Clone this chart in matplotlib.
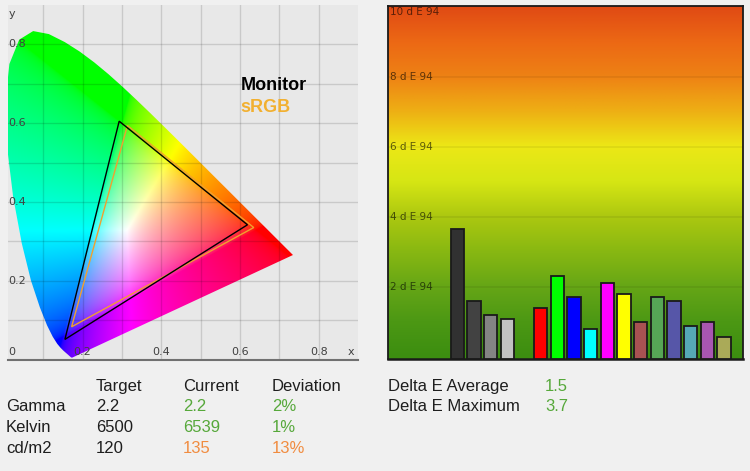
import numpy as np
import matplotlib
matplotlib.use("Agg")
import matplotlib.pyplot as plt
from matplotlib.colors import LinearSegmentedColormap
from matplotlib.patches import Polygon

# ---------------- data ----------------
# CIE 1931 spectral locus (chromaticity x, y)
locus_x = [0.1741, 0.1740, 0.1738, 0.1736, 0.1733, 0.1730, 0.1726, 0.1721, 0.1714,
           0.1703, 0.1689, 0.1669, 0.1644, 0.1611, 0.1566, 0.1510, 0.1440, 0.1355,
           0.1241, 0.1096, 0.0913, 0.0687, 0.0454, 0.0235, 0.0082, 0.0039, 0.0139,
           0.0389, 0.0743, 0.1142, 0.1547, 0.1929, 0.2296, 0.2658, 0.3016, 0.3373,
           0.3731, 0.4087, 0.4441, 0.4788, 0.5125, 0.5448, 0.5752, 0.6029, 0.6270,
           0.6482, 0.6658, 0.6801, 0.6915, 0.7006, 0.7079, 0.7140, 0.7190, 0.7230,
           0.7260, 0.7300, 0.7334, 0.7347]
locus_y = [0.0050, 0.0050, 0.0049, 0.0049, 0.0048, 0.0048, 0.0048, 0.0048, 0.0051,
           0.0058, 0.0069, 0.0086, 0.0109, 0.0138, 0.0177, 0.0227, 0.0297, 0.0399,
           0.0578, 0.0868, 0.1327, 0.2007, 0.2950, 0.4127, 0.5384, 0.6548, 0.7502,
           0.8120, 0.8338, 0.8262, 0.8059, 0.7816, 0.7543, 0.7243, 0.6923, 0.6589,
           0.6245, 0.5896, 0.5547, 0.5202, 0.4866, 0.4544, 0.4242, 0.3965, 0.3725,
           0.3514, 0.3340, 0.3197, 0.3083, 0.2993, 0.2920, 0.2859, 0.2809, 0.2770,
           0.2740, 0.2700, 0.2666, 0.2653]

monitor_x = [0.619, 0.293, 0.155]
monitor_y = [0.342, 0.605, 0.051]
srgb_x = [0.635, 0.314, 0.172]
srgb_y = [0.335, 0.594, 0.083]
chroma_ticks = [0.2, 0.4, 0.6, 0.8]

patch_colors = ["#313131", "#424242", "#848484", "#c2c2c2",
                "#ff0000", "#00ff00", "#0000ff", "#00ffff", "#ff00ff", "#ffff00",
                "#a85252", "#56a656", "#5656a8", "#56a8b6", "#a856b2", "#aaaa58"]
delta_e = [3.65, 1.59, 1.20, 1.08, 1.39, 2.31, 1.71, 0.80, 2.11, 1.79,
           1.00, 1.71, 1.59, 0.88, 1.00, 0.56]
n_grays = 4
de_ticks = [2, 4, 6, 8, 10]

table_header = ["Target", "Current", "Deviation"]
row_labels = ["Gamma", "Kelvin", "cd/m2"]
target_vals = ["2.2", "6500", "120"]
current_vals = ["2.2", "6539", "135"]
deviation_vals = ["2%", "1%", "13%"]
row_ok = [True, True, False]
summary_labels = ["Delta E Average", "Delta E Maximum"]
summary_vals = ["1.5", "3.7"]

# ---------------- style ----------------
W, H = 750, 471
GREEN = "#56a83a"
ORANGE = "#f08c40"
TXT = "#1e1e1e"
TABLE_FONT = ["Liberation Sans", "DejaVu Sans"]

def fx(px):
    return px / W

def fy(py):
    return 1 - py / H

fig = plt.figure(figsize=(7.5, 4.71), dpi=100, facecolor="#f0f0f0")

# ---------------- chromaticity diagram ----------------
axL = fig.add_axes([fx(8), fy(359.5), 350 / W, 354.5 / H])
axL.set_facecolor("#e8e8e8")
axL.set_xlim(0.0104, 0.9)
axL.set_ylim(0, 0.9)
for s in axL.spines.values():
    s.set_visible(False)
axL.set_xticks([]); axL.set_yticks([])

n = 500
gx = np.linspace(0, 0.9, n)
gy = np.linspace(0.0005, 0.9, n)
GX, GY = np.meshgrid(gx, gy)
Yc = np.maximum(GY, 1e-4)
Xv = GX / Yc
Zv = (1 - GX - GY) / Yc
R = 3.2406 * Xv - 1.5372 - 0.4986 * Zv
G = -0.9689 * Xv + 1.8758 + 0.0415 * Zv
B = 0.0557 * Xv - 0.2040 + 1.0570 * Zv
rgb = np.clip(np.stack([R, G, B], -1), 0, None)
rgb = rgb / np.maximum(rgb.max(-1, keepdims=True), 1e-6)
rgb = rgb ** (1 / 2.2)
im = axL.imshow(rgb, origin="lower", extent=(0, 0.9, 0, 0.9), aspect="auto",
                interpolation="bilinear", zorder=1)
poly = Polygon(np.column_stack([locus_x, locus_y]), closed=True,
               facecolor="none", edgecolor="none")
axL.add_patch(poly)
im.set_clip_path(poly)

for v in np.arange(1, 9) / 10:
    axL.axvline(v, color="black", alpha=0.13, lw=1, zorder=2)
    axL.axhline(v, color="black", alpha=0.13, lw=1, zorder=2)
axL.axhline(0, color="#707070", lw=1.5, zorder=5, clip_on=False)

axL.fill(monitor_x, monitor_y, facecolor="none", edgecolor="black", lw=1.0, zorder=4)
axL.fill(srgb_x, srgb_y, facecolor="none", edgecolor="#f0a030", lw=1.0, zorder=3)

lab_kw = dict(fontsize=8, color="#404040", family="DejaVu Sans", zorder=6)
for t in chroma_ticks:
    axL.text(0.0115, t, f"{t:g}", ha="left", va="center", **lab_kw)
    axL.text(t, 0.019, f"{t:g}", ha="center", va="center", **lab_kw)
axL.text(0.02, 0.019, "0", ha="center", va="center", **lab_kw)
axL.text(0.883, 0.019, "x", ha="center", va="center", **lab_kw)
axL.text(0.02, 0.876, "y", ha="center", va="center", **lab_kw)

fig.text(fx(240.5), fy(89.5), "Monitor", fontsize=13, fontweight="bold",
         color="black", family=TABLE_FONT, va="baseline", ha="left")
fig.text(fx(240.5), fy(112.3), "sRGB", fontsize=13, fontweight="bold",
         color="#f2b030", family=TABLE_FONT, va="baseline", ha="left")

# ---------------- Delta E bar chart ----------------
axR = fig.add_axes([fx(388.3), fy(359.3), 354.4 / W, 353.3 / H])
ylo, yhi = -0.074, 10.02
xlo, xhi = -4.14, 17.12
axR.set_xlim(xlo, xhi)
axR.set_ylim(ylo, yhi)
axR.set_xticks([]); axR.set_yticks([])
for s in axR.spines.values():
    s.set_color("#1a1a1a")
    s.set_linewidth(1.3)
axR.spines["bottom"].set_linewidth(1.8)

stops = [(0.0, "#3c8e10"), (0.1, "#4c9814"), (0.2, "#66a616"), (0.3, "#88b812"),
         (0.4, "#acc810"), (0.5, "#d6e614"), (0.6, "#ece816"), (0.7, "#eeb014"),
         (0.8, "#ee8214"), (0.9, "#ec6814"), (1.0, "#e04a14")]
cmap = LinearSegmentedColormap.from_list("de", stops)
grad = np.linspace(0, 1, 256).reshape(-1, 1)
axR.imshow(grad, cmap=cmap, origin="lower", extent=(xlo, xhi, 0, 10),
           aspect="auto", zorder=0)
axR.axhspan(ylo, 0, color=cmap(0.0), zorder=0, lw=0)
for t in de_ticks[:-1]:
    axR.axhline(t, color="black", alpha=0.07, lw=1.2, zorder=1)

positions = [i + (1 if i >= n_grays else 0) for i in range(len(delta_e))]
heights = [v - ylo for v in delta_e]
axR.bar(positions, heights, bottom=ylo, width=0.8, color=patch_colors,
        edgecolor="#1a1a1a", linewidth=1.3, zorder=3)

for t in de_ticks:
    axR.text(xlo + 0.12, t, f"{t} d E 94", fontsize=7.5, color="black", alpha=0.6,
             family="DejaVu Sans", ha="left", va="top" if t == 10 else "center",
             zorder=4)

# ---------------- tables ----------------
col_x = [6, 95.7, 183, 272]
row_base = [390.7, 411.3, 432.3, 453.0]
tkw = dict(fontsize=12, family=TABLE_FONT, va="baseline", ha="left")
for j, h in enumerate(table_header):
    fig.text(fx(col_x[j + 1]), fy(row_base[0]), h, color=TXT, **tkw)
for i, lab in enumerate(row_labels):
    yb = fy(row_base[i + 1])
    c = GREEN if row_ok[i] else ORANGE
    fig.text(fx(col_x[0]), yb, lab, color=TXT, **tkw)
    fig.text(fx(col_x[1]), yb, target_vals[i], color=TXT, **tkw)
    fig.text(fx(col_x[2]), yb, current_vals[i], color=c, **tkw)
    fig.text(fx(col_x[3]), yb, deviation_vals[i], color=c, **tkw)

for i, lab in enumerate(summary_labels):
    yb = fy(row_base[i])
    fig.text(fx(388), yb, lab, color=TXT, **tkw)
    fig.text(fx(545), yb, summary_vals[i], color=GREEN, **tkw)

fig.savefig("out.png", dpi=100, facecolor=fig.get_facecolor())
